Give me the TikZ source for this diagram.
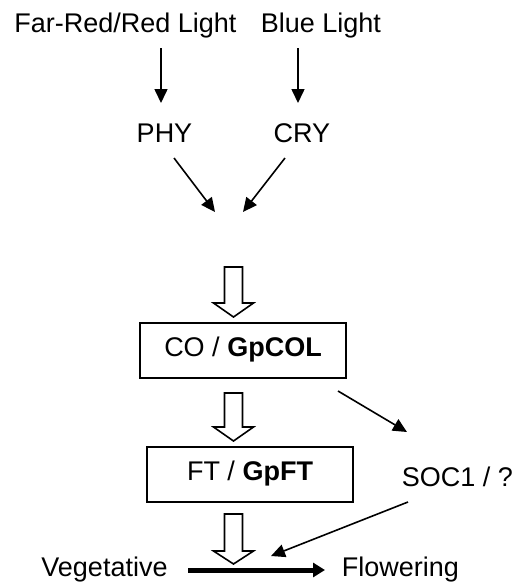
\documentclass[tikz,border=0pt]{standalone}
\usepackage{fontspec}
\setmainfont{Liberation Sans}
\usetikzlibrary{arrows.meta}
\begin{document}
\begin{tikzpicture}[x=1pt,y=-1pt,
  lbl/.style={inner sep=0pt,anchor=base,font=\fontsize{27}{32}\selectfont},
  genebox/.style={draw,line width=2pt,inner sep=0pt,minimum width=206pt,minimum height=55pt,font=\fontsize{27}{32}\selectfont},
  thinarrow/.style={line width=1.6pt,-{Triangle[length=14pt,width=13pt]}},
  thickarrow/.style={line width=5pt,-{Triangle[length=12pt,width=14pt]}},
  hollow/.style={draw,line width=1.6pt,fill=white,line join=miter}]
\useasboundingbox (0,0) rectangle (514,582);
% text nodes
\node[lbl] (far) at (125.5,32) {Far-Red/Red Light};
\node[lbl] (blue) at (321,32) {Blue Light};
\node[lbl] (phy) at (164.5,142) {PHY};
\node[lbl] (cry) at (302,142) {CRY};
\node[genebox] (co) at (243,350) {CO / \textbf{GpCOL}};
\node[genebox] (ft) at (250,474) {FT / \textbf{GpFT}\hspace{17pt}};
\node[lbl] (soc) at (457.5,486) {SOC1 / ?};
\node[lbl] (veg) at (104.5,576) {Vegetative};
\node[lbl] (flo) at (400.5,576) {Flowering};
% connector end points
\coordinate (farS) at (161,48);  \coordinate (farE) at (161,103);
\coordinate (bluS) at (298,48);  \coordinate (bluE) at (298,103);
\coordinate (phyS) at (174,158); \coordinate (phyE) at (215,212);
\coordinate (cryS) at (285,158); \coordinate (cryE) at (243,212);
\coordinate (coS) at (338,391);  \coordinate (coE) at (407,432);
\coordinate (socS) at (408,502); \coordinate (socE) at (271,556);
\coordinate (vegE) at (188,570); \coordinate (floE) at (325,570);
% thin arrows
\draw[thinarrow] (farS) -- (farE);
\draw[thinarrow] (bluS) -- (bluE);
\draw[thinarrow] (phyS) -- (phyE);
\draw[thinarrow] (cryS) -- (cryE);
\draw[thinarrow] (coS) -- (coE);
\draw[thinarrow] (socS) -- (socE);
\draw[thickarrow] (vegE) -- (floE);
% hollow arrows
\draw[hollow] (224.5,267) -- (242.5,267) -- (242.5,303) -- (253.5,303) -- (233.5,317) -- (213.5,303) -- (224.5,303) -- cycle;
\draw[hollow] (224.5,393) -- (242.5,393) -- (242.5,427) -- (253.5,427) -- (233.5,441) -- (213.5,427) -- (224.5,427) -- cycle;
\draw[hollow] (224.5,514) -- (242.5,514) -- (242.5,551) -- (253.5,551) -- (233.5,564) -- (213.5,551) -- (224.5,551) -- cycle;
\end{tikzpicture}
\end{document}
